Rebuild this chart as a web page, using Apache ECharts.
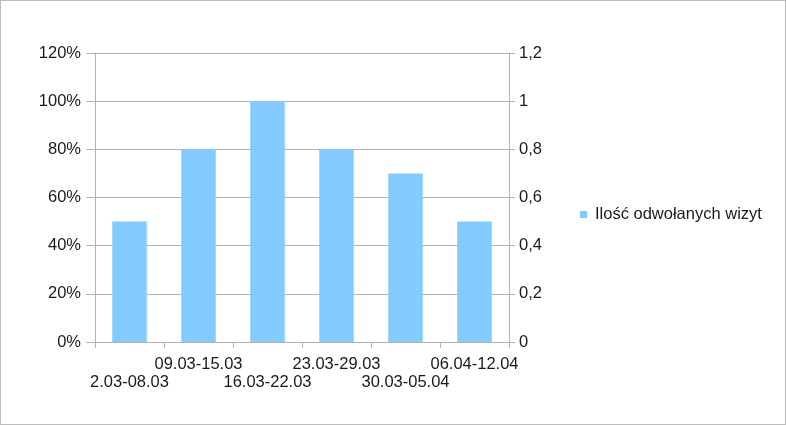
<!DOCTYPE html>
<html><head><meta charset="utf-8">
<script src="https://cdn.jsdelivr.net/npm/echarts@6/dist/echarts.min.js"></script>
<style>
html,body{margin:0;padding:0;background:#fff;}
#wrap{width:784px;height:423px;border:1px solid #bcbcbc;position:relative;}
#c{width:784px;height:423px;}
</style></head>
<body><div id="wrap"><div id="c"></div></div>
<script>
const categories = ['2.03-08.03','09.03-15.03','16.03-22.03','23.03-29.03','30.03-05.04','06.04-12.04'];
const values = [0.5, 0.8, 1.0, 0.8, 0.7, 0.5];
const seriesName = 'Ilość odwołanych wizyt';
const leftTicks = ['0%','20%','40%','60%','80%','100%','120%'];
const rightTicks = ['0','0,2','0,4','0,6','0,8','1','1,2'];

const txt = '#1a1a1a';
const ff = '"Liberation Sans", Arial, sans-serif';
const fs = 16.5;
const chart = echarts.init(document.getElementById('c'));
chart.setOption({
  animation:false,
  textStyle:{fontFamily:ff},
  grid:{left:94,right:276,top:52,bottom:82},
  legend:{
    left:579, top:205, orient:'vertical', padding:0,
    itemWidth:7, itemHeight:7, itemGap:6,
    icon:'rect',
    textStyle:{color:txt,fontSize:fs,fontFamily:ff,padding:[0,0,0,3]},
    data:[seriesName]
  },
  xAxis:{
    type:'category', data:categories,
    axisLine:{lineStyle:{color:'#b3b3b3'}},
    axisTick:{show:true,alignWithLabel:false,length:6,lineStyle:{color:'#b3b3b3'}},
    axisLabel:{
      interval:0, color:txt, fontSize:fs, fontFamily:ff, margin:13, lineHeight:18,
      formatter:(v,i)=> i%2===0 ? '\n'+v : v
    }
  },
  yAxis:[
    {type:'value',min:0,max:1.2,interval:0.2,position:'left',
     axisLine:{show:true,lineStyle:{color:'#b3b3b3'}},
     axisTick:{show:true,length:9,lineStyle:{color:'#b3b3b3'}},
     splitLine:{show:true,lineStyle:{color:'#b3b3b3'}},
     axisLabel:{color:txt,fontSize:fs,fontFamily:ff,margin:14,
       formatter:(v)=>leftTicks[Math.round(v/0.2)]}
    },
    {type:'value',min:0,max:1.2,interval:0.2,position:'right',
     axisLine:{show:true,lineStyle:{color:'#b3b3b3'}},
     axisTick:{show:true,length:6,lineStyle:{color:'#b3b3b3'}},
     splitLine:{show:false},
     axisLabel:{color:txt,fontSize:fs,fontFamily:ff,margin:10,
       formatter:(v)=>rightTicks[Math.round(v/0.2)]}
    }
  ],
  series:[{
    name:seriesName, type:'bar', data:values, yAxisIndex:0,
    barWidth:'50%', itemStyle:{color:'#83caff'}
  }]
});
</script></body></html>
